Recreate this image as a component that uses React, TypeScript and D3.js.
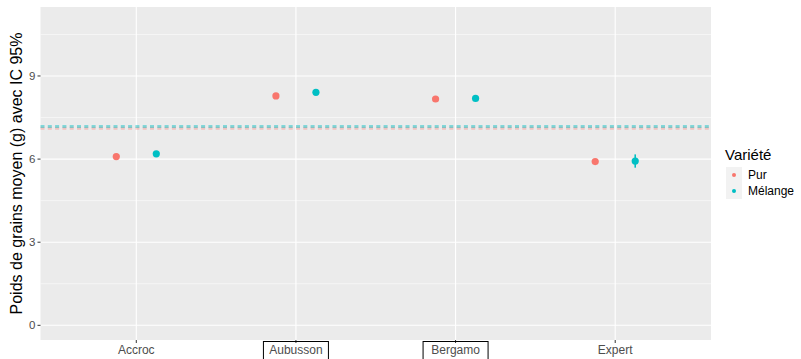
import React from "react";
import * as d3 from "d3";

const categories = ["Accroc", "Aubusson", "Bergamo", "Expert"];
const varieties = ["Pur", "Mélange"];
const purMeans = [6.09, 8.28, 8.17, 5.91];
const melangeMeans = [6.19, 8.41, 8.19, 5.93];
const purCI = [0.04, 0.04, 0.04, 0.04];
const melangeCI = [0.04, 0.04, 0.04, 0.24];
const yTicks = [0, 3, 6, 9];
const yMinor = [1.5, 4.5, 7.5, 10.5];
const boxedLabels = ["Aubusson", "Bergamo"];

const colors: Record<string, string> = { Pur: "#F8766D", "Mélange": "#00BFC4" };

export default function App() {
  const W = 801, H = 359;
  const left = 40.5, right = 711, top = 7, bottom = 340;
  const y = d3.scaleLinear().domain([-0.53, 11.49]).range([bottom, top]);
  const x = d3.scalePoint<string>().domain(categories).range([left, right]).padding(0.6);
  const dodge = 20;
  const series = [
    { name: "Pur", means: purMeans, ci: purCI, off: -dodge, op: 0.35 },
    { name: "Mélange", means: melangeMeans, ci: melangeCI, off: dodge, op: 0.45 },
  ];
  const font = "'Liberation Sans', Arial, Helvetica, sans-serif";
  return (
    <svg width={W} height={H} style={{ position: "absolute", left: 0, top: 0, fontFamily: font }}>
      <rect x={0} y={0} width={W} height={H} fill="#fff" />
      <rect x={left} y={top} width={right - left} height={bottom - top} fill="#EBEBEB" />
      {yMinor.map((t) => (
        <line key={"m" + t} x1={left} x2={right} y1={y(t)} y2={y(t)} stroke="#fff" strokeWidth={0.55} />
      ))}
      {yTicks.map((t) => (
        <line key={"g" + t} x1={left} x2={right} y1={y(t)} y2={y(t)} stroke="#fff" strokeWidth={1.1} />
      ))}
      {categories.map((c) => (
        <line key={"v" + c} x1={x(c)} x2={x(c)} y1={top} y2={bottom} stroke="#fff" strokeWidth={1.1} />
      ))}
      {series.map((s) => {
        const m = d3.mean(s.means) as number;
        return (
          <line key={"h" + s.name} x1={left} x2={right} y1={y(m)} y2={y(m)}
            stroke={colors[s.name]} strokeOpacity={s.op} strokeWidth={3} strokeDasharray="4,3.3" />
        );
      })}
      {series.map((s) =>
        categories.map((c, i) => {
          const cx = (x(c) as number) + s.off;
          return (
            <g key={s.name + c}>
              <line x1={cx} x2={cx} y1={y(s.means[i] - s.ci[i])} y2={y(s.means[i] + s.ci[i])}
                stroke={colors[s.name]} strokeWidth={1.6} />
              <circle cx={cx} cy={y(s.means[i])} r={3.6} fill={colors[s.name]} />
            </g>
          );
        })
      )}
      {yTicks.map((t) => (
        <g key={"yt" + t}>
          <line x1={left - 3} x2={left} y1={y(t)} y2={y(t)} stroke="#333" strokeWidth={1} />
          <text x={left - 5} y={y(t)} dy="0.35em" textAnchor="end" fontSize={11.5} fill="#4D4D4D">{t}</text>
        </g>
      ))}
      {categories.map((c) => (
        <g key={"xt" + c}>
          <line x1={x(c)} x2={x(c)} y1={bottom} y2={bottom + 3} stroke="#333" strokeWidth={1} />
          <text x={x(c)} y={bottom + 14} textAnchor="middle" fontSize={12} fill="#4D4D4D">{c}</text>
          {boxedLabels.includes(c) && (
            <rect x={(x(c) as number) - 32.5} y={341.5} width={65} height={20} fill="none" stroke="#000" strokeWidth={1} />
          )}
        </g>
      ))}
      <text transform={`translate(22,${(top + bottom) / 2}) rotate(-90)`} textAnchor="middle" fontSize={16} fill="#000">
        Poids de grains moyen (g) avec IC 95%
      </text>
      <text x={725} y={160} fontSize={15} fill="#000">Variété</text>
      {varieties.map((v, i) => (
        <g key={"lg" + v}>
          <rect x={726} y={167 + i * 16} width={16} height={16} fill="#F2F2F2" />
          <circle cx={734} cy={175 + i * 16} r={2} fill={colors[v]} />
          <text x={748} y={175 + i * 16} dy="0.35em" fontSize={12} fill="#000">{v}</text>
        </g>
      ))}
    </svg>
  );
}
